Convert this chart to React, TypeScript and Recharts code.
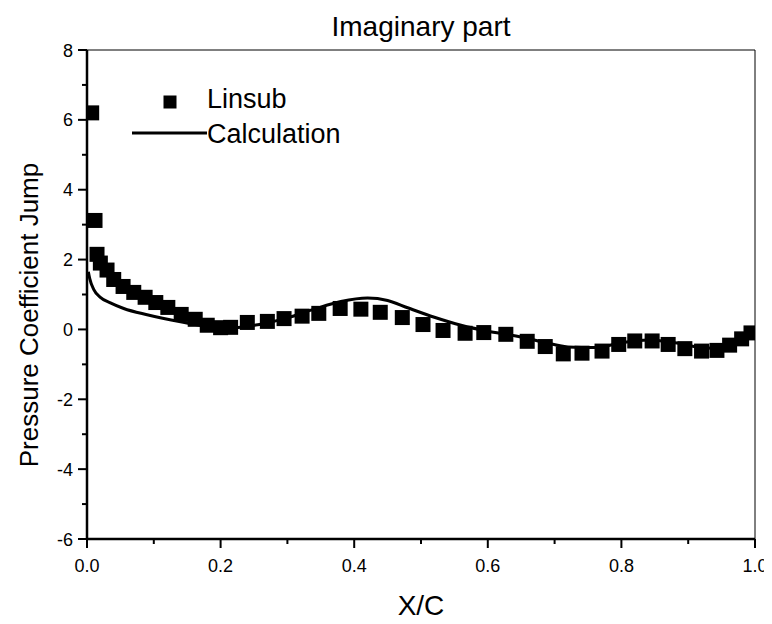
import React from 'react';
import { ComposedChart, Scatter, Line, XAxis, YAxis, ReferenceLine } from 'recharts';

// Linsub reference values (chordwise station, imaginary pressure-coefficient jump)
const linsubX = [0.007, 0.012, 0.015, 0.02, 0.03, 0.04, 0.054, 0.07, 0.087, 0.103, 0.121, 0.141, 0.162, 0.18, 0.2, 0.215, 0.24, 0.27, 0.295, 0.322, 0.347, 0.379, 0.41, 0.439, 0.472, 0.503, 0.533, 0.566, 0.594, 0.627, 0.659, 0.686, 0.713, 0.741, 0.771, 0.796, 0.82, 0.846, 0.87, 0.895, 0.92, 0.943, 0.962, 0.98, 0.994];
const linsubY = [6.2, 3.12, 2.15, 1.9, 1.7, 1.43, 1.23, 1.06, 0.92, 0.77, 0.63, 0.43, 0.29, 0.12, 0.05, 0.06, 0.2, 0.23, 0.31, 0.38, 0.46, 0.6, 0.58, 0.49, 0.34, 0.14, -0.03, -0.11, -0.09, -0.14, -0.34, -0.49, -0.7, -0.68, -0.62, -0.43, -0.33, -0.33, -0.43, -0.55, -0.62, -0.6, -0.45, -0.27, -0.1];

// Computed distribution
const calcX = [0.002, 0.004, 0.01, 0.02, 0.035, 0.055, 0.09, 0.14, 0.19, 0.22, 0.26, 0.3, 0.34, 0.38, 0.42, 0.45, 0.48, 0.52, 0.56, 0.6, 0.64, 0.68, 0.72, 0.76, 0.8, 0.84, 0.88, 0.92, 0.95, 0.98, 1.0];
const calcY = [1.65, 1.46, 1.15, 0.92, 0.76, 0.6, 0.42, 0.22, 0.07, 0.05, 0.15, 0.33, 0.58, 0.8, 0.9, 0.83, 0.62, 0.35, 0.12, -0.05, -0.18, -0.35, -0.5, -0.52, -0.38, -0.3, -0.38, -0.52, -0.55, -0.35, -0.15];

// Major ticks are labelled; minor ticks fall halfway between them
const xTicks = [0, 0.1, 0.2, 0.3, 0.4, 0.5, 0.6, 0.7, 0.8, 0.9, 1.0];
const xMajorTicks = [0, 0.2, 0.4, 0.6, 0.8, 1.0];
const yTicks = [-6, -5, -4, -3, -2, -1, 0, 1, 2, 3, 4, 5, 6, 7, 8];
const yMajorTicks = [-6, -4, -2, 0, 2, 4, 6, 8];

const linsubData = linsubX.map((x, i) => ({ x, y: linsubY[i] }));
const calcData = calcX.map((x, i) => ({ x, y: calcY[i] }));

const FONT = "Arial, 'Liberation Sans', sans-serif";
const W = 764;
const H = 616;
const MAJOR_LEN = 9;
const MINOR_LEN = 5;
const SQ = 15;

const isMajor = (list: number[], v: number) => list.some((m) => Math.abs(m - v) < 1e-6);

const SquareMark = (props: any) => {
  const { cx, cy } = props;
  if (cx == null || cy == null) return null;
  return <rect x={cx - SQ / 2} y={cy - SQ / 2} width={SQ} height={SQ} fill="#000" />;
};

const XTick = (props: any) => {
  const { x, y, payload } = props;
  const v = payload.value as number;
  const major = isMajor(xMajorTicks, v);
  return (
    <g>
      <line x1={x} x2={x} y1={y} y2={y + (major ? MAJOR_LEN : MINOR_LEN)} stroke="#000" strokeWidth={2} />
      {major && (
        <text x={x} y={y + 33} textAnchor="middle" fontSize={18} fontFamily={FONT} fill="#000">
          {v.toFixed(1)}
        </text>
      )}
    </g>
  );
};

const YTick = (props: any) => {
  const { x, y, payload } = props;
  const v = payload.value as number;
  const major = isMajor(yMajorTicks, v);
  return (
    <g>
      <line x1={x - (major ? MAJOR_LEN : MINOR_LEN)} x2={x} y1={y} y2={y} stroke="#000" strokeWidth={2} />
      {major && (
        <text x={x - 14} y={y + 6.5} textAnchor="end" fontSize={18} fontFamily={FONT} fill="#000">
          {v}
        </text>
      )}
    </g>
  );
};

export default function App() {
  return (
    <div style={{ position: 'relative', width: W, height: H, background: '#fff' }}>
      <ComposedChart width={W} height={H} margin={{ top: 42, right: 17, bottom: 0, left: 0 }}>
        <XAxis
          type="number"
          dataKey="x"
          domain={[0, 1]}
          ticks={xTicks}
          interval={0}
          height={85}
          tickSize={0}
          tickMargin={0}
          axisLine={{ stroke: '#000', strokeWidth: 2.5 }}
          tickLine={false}
          tick={<XTick />}
          allowDataOverflow
        />
        <YAxis
          type="number"
          dataKey="y"
          domain={[-6, 8]}
          ticks={yTicks}
          interval={0}
          width={79}
          tickSize={0}
          tickMargin={0}
          axisLine={{ stroke: '#000', strokeWidth: 2.5 }}
          tickLine={false}
          tick={<YTick />}
          allowDataOverflow
        />
        <ReferenceLine y={8} stroke="#000" strokeWidth={1} />
        <ReferenceLine x={1} stroke="#000" strokeWidth={1} />
        <Scatter
          name="Linsub"
          data={linsubData}
          dataKey="y"
          fill="#000"
          shape={SquareMark}
          isAnimationActive={false}
        />
        <Line
          name="Calculation"
          data={calcData}
          dataKey="y"
          type="monotone"
          stroke="#000"
          strokeWidth={3}
          dot={false}
          activeDot={false}
          isAnimationActive={false}
        />
      </ComposedChart>
      <svg
        width={W}
        height={H}
        style={{ position: 'absolute', left: 0, top: 0, pointerEvents: 'none' }}
        fontFamily={FONT}
      >
        <text x={413} y={28} textAnchor="middle" fontSize={28} fill="#000">Imaginary part</text>
        <text x={413} y={607} textAnchor="middle" fontSize={28} fill="#000">X/C</text>
        <text
          x={0}
          y={0}
          transform="translate(30,307) rotate(-90)"
          textAnchor="middle"
          fontSize={26}
          fill="#000"
        >
          Pressure Coefficient Jump
        </text>
        {/* legend */}
        <rect x={155.5} y={87.5} width={13} height={13} fill="#000" />
        <text x={199} y={100} fontSize={27} fill="#000">Linsub</text>
        <line x1={124} x2={199} y1={125} y2={125} stroke="#000" strokeWidth={3} />
        <text x={199} y={135} fontSize={27} fill="#000">Calculation</text>
      </svg>
    </div>
  );
}
